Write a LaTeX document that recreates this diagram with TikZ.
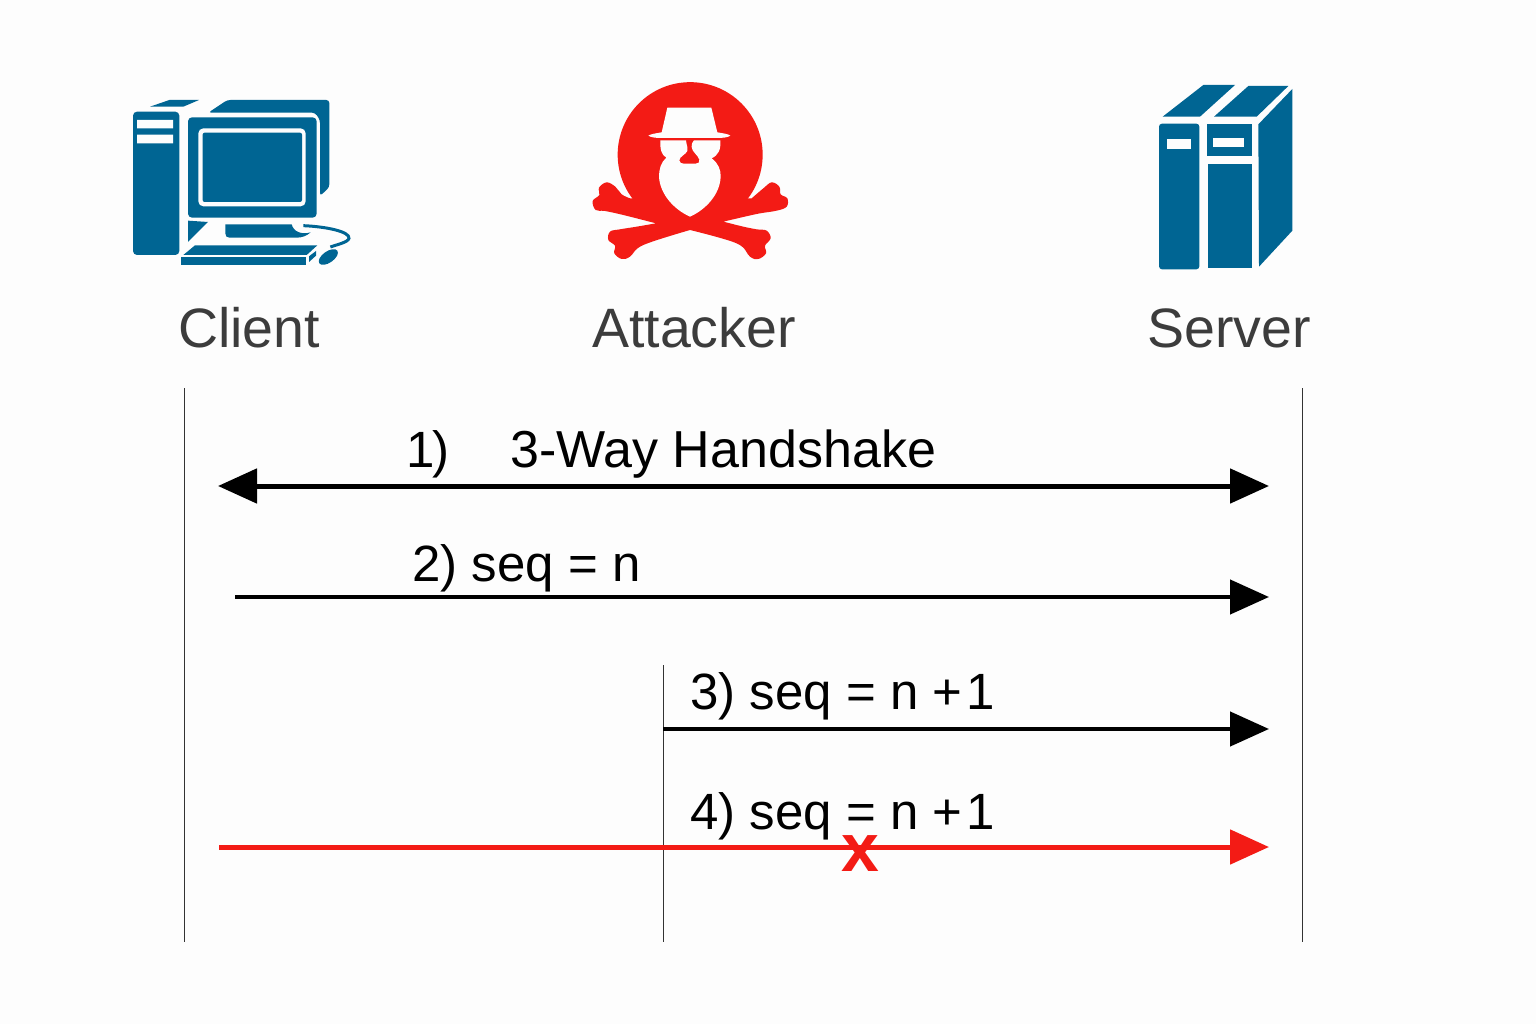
\documentclass[tikz,border=0pt]{standalone}
\usepackage{fontspec}
\setmainfont{Liberation Sans}
\usetikzlibrary{arrows.meta}
\definecolor{iconblue}{HTML}{006593}
\definecolor{alertred}{HTML}{F31B15}
\definecolor{namegrey}{HTML}{3C3C3C}
\definecolor{paper}{HTML}{FDFDFD}
\tikzset{
  blue fill/.style={fill=iconblue,draw=none},
  red fill/.style={fill=alertred,draw=none},
  white fill/.style={fill=paper,draw=none},
  actor name/.style={inner sep=0,anchor=base,text=namegrey,font=\fontsize{55.5}{60}\selectfont},
  msg label/.style={inner sep=0,anchor=base west,text=black,font=\fontsize{51}{56}\selectfont},
  lifeline/.style={draw=black!80,line width=1pt},
  msg/.style={draw=black,line width=4.5pt,-{Triangle[length=39pt,width=34pt]}},
  msg both/.style={draw=black,line width=5pt,{Triangle[length=39pt,width=34pt]}-{Triangle[length=39pt,width=34pt]}},
  msg red/.style={draw=alertred,line width=5pt,-{Triangle[length=39pt,width=34pt]}},
}
\begin{document}
\begin{tikzpicture}[x=1pt,y=-1pt]
\useasboundingbox (0,0) rectangle (1536,1024);
\fill[paper] (0,0) rectangle (1536,1024);

% ---------- Client icon
\begin{scope}[xshift=120pt,yshift=-90pt,scale=0.33333]
  \path[blue fill,rounded corners=4pt] (39,65) rectangle (178,495);
  \path[white fill] (51,90) rectangle (159,115) (51,134) rectangle (159,160);
  \path[blue fill] (90,50) -- (148,30) -- (237,30) -- (190,50) -- cycle;
  \path[blue fill,rounded corners=3pt] (265,68) -- (322,30) -- (628,30) -- (628,292) -- (600,318) -- (600,90) -- (585,68) -- cycle;
  \path[blue fill,rounded corners=4pt] (204,82) rectangle (590,383);
  \path[white fill,rounded corners=5pt] (235,115) rectangle (557,349);
  \path[blue fill,rounded corners=2pt] (248,128) rectangle (546,336);
  \path[blue fill] (204,392) -- (264,396) -- (204,456) -- cycle;
  \path[blue fill] (316,403) -- (515,403) .. controls (520,425) and (545,435) .. (572,427)
     .. controls (560,438) and (545,443) .. (530,443) -- (328,443)
     .. controls (320,443) and (316,438) .. (316,430) -- cycle;
  \path[draw=iconblue,line width=3pt] (550,407) .. controls (620,410) and (690,425) .. (687,445)
     .. controls (684,457) and (650,464) .. (631,471);
  \path[blue fill] (225,466) -- (592,466) -- (560,495) -- (190,495) -- cycle;
  \path[blue fill] (183,501) rectangle (558,524);
  \path[blue fill] (567,499) -- (588,483) -- (588,497) -- (567,516) -- cycle;
  \path[blue fill,rotate around={35:(625,501)}] (625,501) ellipse [x radius=33,y radius=17];
\end{scope}

% ---------- Attacker icon
\begin{scope}[xshift=580pt,yshift=-75pt,scale=0.33333]
  \fill[alertred] (330.5,239) circle (217.5);
  \path[red fill] (150,370)
     -- plot[smooth,tension=.6] coordinates {(150,370) (125,358) (106,335) (80,322) (57,338) (58,360) (38,378) (47,405) (75,408) (130,420) (228,445)}
     -- plot[smooth,tension=.6] coordinates {(228,445) (170,455) (120,463) (90,470) (85,495) (105,512) (103,535) (125,552) (150,545) (190,510) (330,465)}
     -- plot[smooth,tension=.6] coordinates {(330,465) (470,505) (510,545) (535,552) (558,535) (555,512) (572,490) (560,467) (530,463) (490,455) (430,440)}
     -- plot[smooth,tension=.6] coordinates {(430,440) (530,417) (590,407) (620,395) (622,370) (602,358) (598,335) (575,322) (550,340) (515,370)}
     -- cycle;
  \path[white fill] (262,98) -- (394,98) -- (412,172) .. controls (430,175) and (445,177) .. (451,182)
     .. controls (445,187) and (430,189) .. (410,189) -- (245,189)
     .. controls (225,189) and (212,187) .. (205,182) .. controls (212,177) and (228,175) .. (245,172) -- cycle;
  \path[white fill] (241,196) -- (318,196) .. controls (320,215) and (325,218) .. (322,228)
     .. controls (318,238) and (298,245) .. (298,256) .. controls (298,264) and (305,266) .. (312,266)
     -- (347,266) .. controls (355,266) and (360,262) .. (358,254)
     .. controls (354,240) and (335,230) .. (335,216) .. controls (335,205) and (338,200) .. (342,196)
     -- (421,196) .. controls (423,225) and (415,240) .. (395,250)
     .. controls (415,265) and (423,285) .. (422,305)
     .. controls (420,360) and (375,405) .. (330,425)
     .. controls (285,405) and (240,360) .. (237,305)
     .. controls (237,285) and (242,262) .. (259,248)
     .. controls (245,240) and (240,225) .. (241,196) -- cycle;
\end{scope}

% ---------- Server icon
\begin{scope}[xshift=1140pt,yshift=-75pt,scale=0.33333]
  \path[blue fill] (68,125) -- (190,30) -- (285,30) -- (180,125) -- cycle;
  \path[blue fill] (222,125) -- (325,33) -- (445,33) -- (350,125) -- cycle;
  \path[blue fill] (355,148) -- (457,42) -- (457,467) -- (357,575) -- cycle;
  \path[blue fill,rounded corners=3pt] (57,146) rectangle (178,583);
  \path[white fill] (80,191) rectangle (154,223);
  \path[blue fill] (201,148) rectangle (336,242);
  \path[white fill] (218,188) rectangle (312,217);
  \path[blue fill] (203,267) rectangle (336,578);
\end{scope}

% ---------- Names
\node[actor name] (client) at (249,347) {Client};
\node[actor name] (attacker) at (694,347) {Attacker};
\node[actor name] (server) at (1229,347) {Server};

% ---------- Lifelines
\coordinate (cTop) at (184.5,388);   \coordinate (cBot) at (184.5,942);
\coordinate (sTop) at (1302.5,388);  \coordinate (sBot) at (1302.5,942);
\coordinate (aTop) at (663,665);     \coordinate (aBot) at (663,942);
\draw[lifeline] (cTop) -- (cBot);
\draw[lifeline] (sTop) -- (sBot);
\draw[lifeline] (aTop) -- (aBot);

% ---------- Messages
\coordinate (m1a) at (218,486);  \coordinate (m1b) at (1269,486);
\coordinate (m2a) at (235,597);  \coordinate (m2b) at (1269,597);
\coordinate (m3a) at (663,729);  \coordinate (m3b) at (1269,729);
\coordinate (m4a) at (219,847);  \coordinate (m4b) at (1269,847);
\draw[msg both] (m1a) -- (m1b);
\draw[msg] (m2a) -- (m2b);
\draw[msg] (m3a) -- (m3b);
\draw[msg red] (m4a) -- (m4b);

\node[msg label] (l1a) at (406,467) {1\kern-2pt)};
\node[msg label,font=\fontsize{52}{56}\selectfont] (l1b) at (510,467) {3-Way Handshake};
\node[msg label] (l2) at (412,581) {2) seq = n};
\node[msg label] (l3) at (690,709) {3) seq = n + \kern-10pt 1};
\node[msg label] (l4) at (690,829) {4) seq = n + \kern-10pt 1};
\node[inner sep=0,anchor=base,text=alertred,font=\fontsize{68}{70}\selectfont\bfseries] (cross) at (860,871) {x};
\end{tikzpicture}
\end{document}
